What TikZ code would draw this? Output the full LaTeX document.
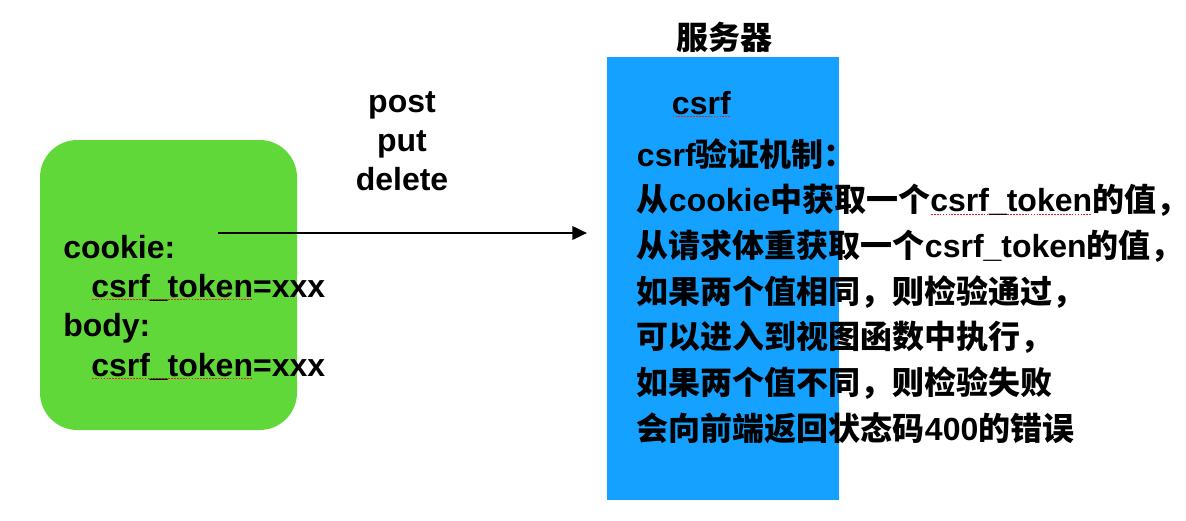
\documentclass[tikz,border=0pt]{standalone}
\usepackage{fontspec}
\setmainfont{Liberation Sans}
\newfontfamily\zhfont{Noto Sans CJK SC}
\usetikzlibrary{arrows.meta, positioning}
\definecolor{clientgreen}{RGB}{96,216,58}
\definecolor{serverblue}{RGB}{20,161,255}
\definecolor{spellred}{RGB}{232,32,32}
\newcommand\zh[1]{{\zhfont\bfseries #1}}
\newcommand\spell[1]{\setbox0=\hbox{#1}\rlap{\color{spellred}\raisebox{-2.4pt}{\leaders\hbox to 2.2pt{\hss\rule{1.3pt}{1pt}\hss}\hskip\wd0}}\box0}
\tikzset{
    >={Triangle[length=11pt,width=10pt]}, % filled arrow heads
    bold text/.style={font=\fontsize{24}{29}\selectfont\bfseries, inner sep=0pt},
    client box/.style={
        fill=clientgreen,
        rounded corners=28pt,
        minimum width=192.75pt,
        minimum height=217.5pt,
        inner sep=0pt,
    },
    server box/.style={
        fill=serverblue,
        minimum width=174pt,
        minimum height=332pt,
        inner sep=0pt,
    }
}
\begin{document}
\begin{tikzpicture}[x=0.75pt, y=-0.75pt]
    \useasboundingbox (0,0) rectangle (1186,521);
    % boxes
    \node [client box] (client) at (168.5,285) {};
    \node [server box] (server) at (723.3,278.7) {};
    \node [bold text, anchor=base] (title) at (724,49.5) {\zh{服务器}};
    % client side
    \foreach \x/\y/\txt [count=\i] in {63/258/cookie:, 91/297/\spell{csrf\_token}=xxx, 63/336/body:, 91/376/\spell{csrf\_token}=xxx}
        \node [bold text, anchor=base west] (cl\i) at (\x,\y) {\txt};
    % request methods
    \foreach \txt [count=\i] in {post, put, delete}
        \node [bold text, anchor=base] (method\i) at (402,73.7+39*\i) {\txt};
    \coordinate (send) at (218,233);
    \coordinate (arrive) at (587,233);
    \draw [->, line width=2pt] (send) -- (arrive);
    % server side
    \node [bold text, anchor=base west] (csrf) at (671.7,114) {\spell{csrf}};
    \foreach \txt [count=\i] in {
        csrf\zh{验证机制：},
        \zh{从}cookie\zh{中获取一个}\spell{csrf\_token}\zh{的值，},
        \zh{从请求体重获取一个}csrf\_token\zh{的值，},
        \zh{如果两个值相同，则检验通过，},
        \zh{可以进入到视图函数中执行，},
        \zh{如果两个值不同，则检验失败},
        \zh{会向前端返回状态码}400\zh{的错误}}
        \node [bold text, anchor=base west] (rule\i) at (636.7,120.3+45.7*\i) {\txt};
\end{tikzpicture}
\end{document}
